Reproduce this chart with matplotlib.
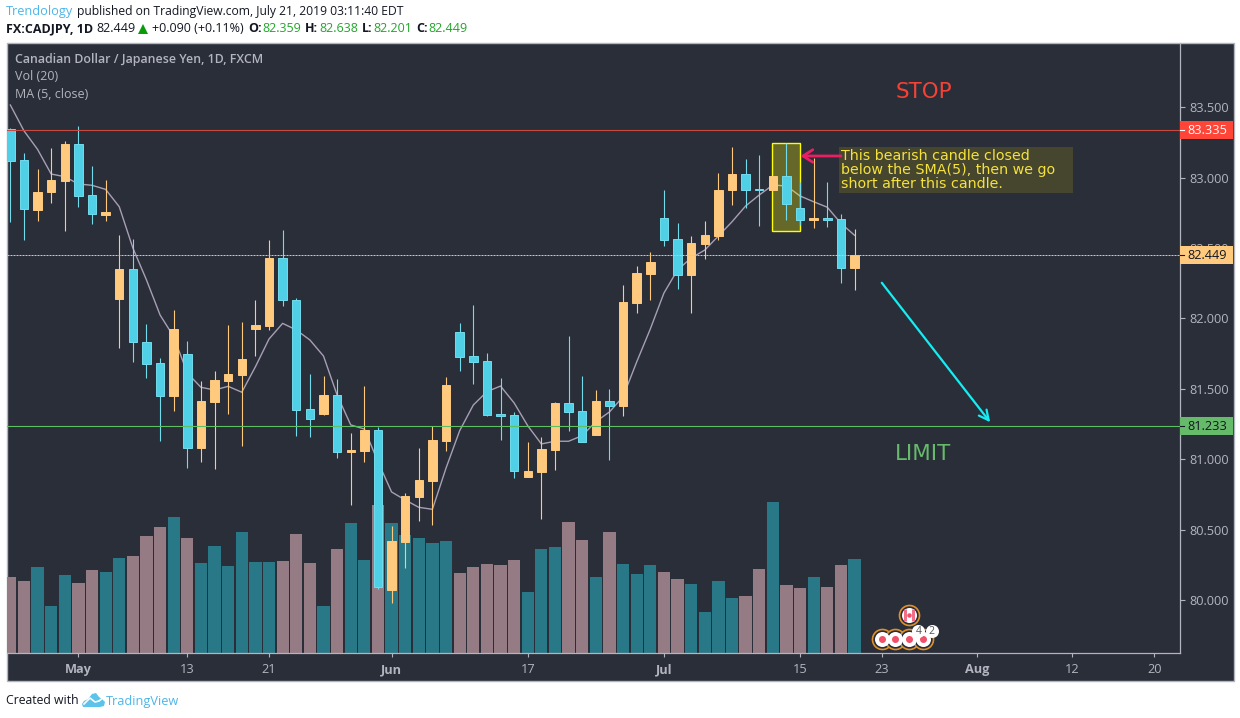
import matplotlib
matplotlib.use('Agg')
import matplotlib.pyplot as plt
from matplotlib.patches import Rectangle, Polygon

plt.rcParams['font.family'] = ['Open Sans', 'DejaVu Sans']

# one bar per trading day, Apr 24 to Jul 19 2019
opens = [83.342, 83.122, 82.771, 82.899, 82.977, 83.236, 82.874, 82.734, 82.140, 82.348,
         81.830, 81.681, 81.451, 81.745, 81.082, 81.409, 81.558, 81.598, 81.927, 81.948,
         82.427, 82.128, 81.355, 81.321, 81.454, 81.052, 81.059, 81.206, 80.072, 80.413,
         80.732, 80.846, 81.130, 81.901, 81.731, 81.696, 81.322, 81.312, 80.874, 80.910,
         81.066, 81.397, 81.341, 81.172, 81.412, 81.378, 82.111, 82.317, 82.710, 82.561,
         82.310, 82.528, 82.585, 82.911, 83.023, 82.918, 82.911, 83.009, 82.781, 82.698,
         82.713, 82.703, 82.359]
highs = [83.349, 83.172, 83.058, 83.209, 83.257, 83.365, 83.082, 82.982, 82.590, 82.561,
         81.958, 81.719, 82.060, 81.840, 81.556, 81.627, 81.953, 81.974, 82.131, 82.556,
         82.625, 82.145, 81.605, 81.591, 81.570, 81.187, 81.520, 81.231, 80.527, 80.759,
         81.080, 81.236, 81.584, 81.967, 82.095, 81.754, 81.577, 81.336, 81.123, 81.158,
         81.407, 81.875, 81.591, 81.492, 81.499, 82.237, 82.372, 82.471, 82.911, 82.677,
         82.585, 82.691, 83.032, 83.216, 83.131, 83.160, 83.011, 83.243, 82.970, 83.138,
         82.968, 82.741, 82.638]
lows = [82.686, 82.556, 82.693, 82.821, 82.622, 82.793, 82.672, 82.693, 81.792, 81.693,
        81.579, 81.132, 81.345, 80.940, 80.983, 80.933, 81.324, 81.097, 81.733, 81.918,
        82.090, 81.167, 81.160, 81.314, 81.011, 80.678, 80.983, 80.082, 79.982, 80.229,
        80.562, 80.534, 81.059, 81.627, 81.534, 81.307, 81.137, 80.867, 80.874, 80.576,
        80.924, 81.201, 81.125, 81.172, 80.995, 81.307, 82.040, 82.131, 82.516, 82.211,
        82.040, 82.424, 82.556, 82.805, 82.784, 82.656, 82.911, 82.698, 82.663, 82.642,
        82.649, 82.251, 82.201]
closes = [83.119, 82.774, 82.897, 82.982, 83.238, 82.871, 82.739, 82.755, 82.351, 81.830,
          81.678, 81.451, 81.925, 81.082, 81.414, 81.563, 81.605, 81.712, 81.953, 82.429,
          82.128, 81.353, 81.288, 81.456, 81.054, 81.066, 81.208, 80.092, 80.420, 80.740,
          80.853, 81.137, 81.527, 81.728, 81.693, 81.317, 81.307, 80.919, 80.917, 81.073,
          81.400, 81.338, 81.125, 81.414, 81.380, 82.116, 82.320, 82.400, 82.559, 82.310,
          82.533, 82.592, 82.911, 83.025, 82.913, 82.913, 83.011, 82.814, 82.700, 82.713,
          82.698, 82.360, 82.449]
ma5 = [83.515, 83.332, 83.200, 83.025, 83.006, 82.954, 82.945, 82.916, 82.793, 82.500,
       82.273, 82.024, 81.870, 81.612, 81.511, 81.492, 81.518, 81.476, 81.657, 81.854,
       81.965, 81.918, 81.847, 81.733, 81.456, 81.244, 81.215, 80.983, 80.768, 80.711,
       80.659, 80.645, 80.938, 81.203, 81.385, 81.480, 81.520, 81.400, 81.238, 81.109,
       81.128, 81.128, 81.168, 81.267, 81.336, 81.444, 81.691, 81.925, 82.180, 82.344,
       82.429, 82.485, 82.585, 82.686, 82.798, 82.876, 82.947, 82.940, 82.869, 82.828,
       82.789, 82.675, 82.590]
volumes = [76, 72, 86, 47, 78, 70, 83, 81, 95, 97, 117, 126, 136, 115, 90, 107, 87, 121, 91, 91,
           92, 119, 90, 47, 104, 130, 93, 148, 130, 118, 115, 110, 112, 80, 86, 89, 88, 93, 61, 104,
           106, 131, 113, 76, 121, 89, 79, 88, 81, 74, 69, 41, 72, 55, 57, 84, 151, 68, 65, 76,
           66, 88, 94]

x_ticks = [5, 13, 19, 28, 38, 48, 58, 64, 71, 78, 84]
x_labels = ['May', '13', '21', 'Jun', '17', 'Jul', '15', '23', 'Aug', '12', '20']
y_ticks = [80.0, 80.5, 81.0, 81.5, 82.0, 82.5, 83.0, 83.5]

stop_price = 83.335
last_price = 82.449
limit_price = 81.233

BG = '#2a2e39'
AXIS = '#b2b5be'
UP = '#ffca7d'
DOWN = '#4fd0e6'
DOWN_EDGE = '#72dcec'
VOL_UP = '#297887'
VOL_DOWN = '#957c84'
BLUE = '#4db5e8'
W, H = 1240, 718


def fx(x):
    return x / W


def fy(y):
    return 1 - y / H


def fig_text(x, y, s, color='#131722', size=8.75, weight='normal', **kw):
    fig.text(fx(x), fy(y), s, color=color, fontsize=size, fontweight=weight, va='center', **kw)


fig = plt.figure(figsize=(W / 100, H / 100), dpi=100, facecolor='white')

# dark panel with the axis strips
fig.patches.append(Rectangle((fx(6.5), fy(681)), fx(1227.5), 638 / H, transform=fig.transFigure,
                             facecolor=BG, edgecolor=AXIS, linewidth=1, zorder=0))

pos = [fx(6.5), fy(653), fx(1173.5), 610 / H]
xlim = (-0.28, 85.9)
ylim = (79.625, 83.955)

vol_ax = fig.add_axes(pos, zorder=1)
vol_ax.axis('off')
vol_ax.set_xlim(xlim)
vol_ax.set_ylim(0, 610)

ax = fig.add_axes(pos, zorder=2)
ax.patch.set_visible(False)
ax.set_xlim(xlim)
ax.set_ylim(ylim)

xs = list(range(len(closes)))
is_up = [c >= o for o, c in zip(opens, closes)]

vol_ax.bar(xs, volumes, width=0.9, color=[VOL_UP if u else VOL_DOWN for u in is_up], linewidth=0)

# moving average sits under the candles
ax.plot(xs, ma5, color='#a79fb5', linewidth=1.0, zorder=2)

ax.vlines(xs, lows, highs, colors=[UP if u else DOWN_EDGE for u in is_up], linewidth=0.8, zorder=3)
ax.bar(xs, [abs(c - o) for o, c in zip(opens, closes)], bottom=[min(o, c) for o, c in zip(opens, closes)],
       width=0.62, color=[UP if u else DOWN for u in is_up],
       edgecolor=[UP if u else DOWN_EDGE for u in is_up], linewidth=0.7, zorder=4)

# price lines
ax.axhline(stop_price, color='#c8493f', linewidth=0.8, zorder=5)
ax.axhline(limit_price, color='#5fbf63', linewidth=0.8, zorder=5)
ax.axhline(last_price, color='#ffc263', linewidth=0.72, linestyle=(0, (2, 1)), zorder=5)

# axes dressing
for name in ['top', 'left']:
    ax.spines[name].set_visible(False)
for name in ['right', 'bottom']:
    ax.spines[name].set_color(AXIS)
    ax.spines[name].set_linewidth(0.9)
ax.yaxis.tick_right()
ax.set_yticks(y_ticks)
ax.set_yticklabels(['%.3f' % v for v in y_ticks])
ax.set_xticks(x_ticks)
ax.set_xticklabels(x_labels)
ax.tick_params(axis='y', colors=AXIS, length=3.5, width=0.8, pad=3.5, labelsize=9.2)
ax.tick_params(axis='x', colors=AXIS, length=3, width=0.8, pad=4.5, labelsize=9.2)
for lab in ax.get_xticklabels():
    if lab.get_text() in ('May', 'Jun', 'Jul', 'Aug'):
        lab.set_fontweight('bold')

# coloured last-value tags over the price scale
trans = ax.get_yaxis_transform()
tag_w = 53 / 1173.5
for price, face, txt, tick in [(stop_price, '#ff4438', 'white', 'white'),
                               (last_price, UP, '#131722', '#131722'),
                               (limit_price, '#66bb6a', '#131722', '#131722')]:
    ax.add_patch(Rectangle((1.0, price - 9 / 140.9), tag_w, 18 / 140.9, transform=trans, facecolor=face,
                           edgecolor='none', clip_on=False, zorder=6))
    ax.plot([1.0, 1.0 + 4 / 1173.5], [price, price], color=tick, linewidth=0.8, transform=trans,
            clip_on=False, zorder=7)
    ax.text(1.0 + 7.5 / 1173.5, price, '%.3f' % price, color=txt, fontsize=9.2, va='center', transform=trans,
            clip_on=False, zorder=7)

# drawings from the author: the highlight stays behind the candles
ax.add_patch(Rectangle((55.97, 82.618), 2.01, 83.243 - 82.618, facecolor=(1, 1, 0, 0.28),
                       edgecolor='#ffff00', linewidth=1.0, zorder=2.5))
ax.add_patch(Rectangle((60.85, 82.892), 17.18, 0.322, facecolor='#46462f', edgecolor='none', zorder=8))
ax.text(61.0, 83.053, 'This bearish candle closed\nbelow the SMA(5), then we go\nshort after this candle.',
        family='DejaVu Sans', color='#f5e23c', fontsize=10.3, linespacing=1.0, va='center', zorder=9)
ax.annotate('', xy=(58.03, 83.153), xytext=(61.0, 83.153), zorder=9,
            arrowprops=dict(arrowstyle='->,head_length=0.7,head_width=0.45', color='#e91e63', lw=2.0,
                            shrinkA=0, shrinkB=0))
ax.annotate('', xy=(71.96, 81.263), xytext=(64.0, 82.253), zorder=9,
            arrowprops=dict(arrowstyle='->,head_length=0.7,head_width=0.35', color='#14eef2', lw=1.6,
                            shrinkA=0, shrinkB=0))
ax.text(64.98, 83.608, 'STOP', family='DejaVu Sans', color='#f44336', fontsize=15.4, va='center', zorder=9)
ax.text(64.98, 81.04, 'LIMIT', family='DejaVu Sans', color='#66bb6a', fontsize=15.4, va='center', zorder=9)

# economic event bubbles
event_x = [64, 65, 66, 67]
event_y = [79.727, 79.727, 79.727, 79.727]
ax.scatter(event_x, event_y, s=(20 * 0.72) ** 2, facecolor=BG, edgecolor='#e0902a', linewidth=1.2, zorder=8)
ax.scatter(event_x, event_y, s=(15 * 0.72) ** 2, color='white', linewidth=0, zorder=9)
ax.scatter(event_x, event_y, s=(7 * 0.72) ** 2, color='#f0506a', linewidth=0, zorder=10)
ax.scatter([66], [79.897], s=(20 * 0.72) ** 2, facecolor=BG, edgecolor='#e0902a', linewidth=1.2, zorder=8)
ax.scatter([66], [79.897], s=(15 * 0.72) ** 2, color='white', linewidth=0, zorder=9)
ax.plot([65.68, 66.32], [79.897, 79.897], linestyle='none', marker='|', markersize=8, markeredgewidth=2.2,
        color='#f0708a', zorder=10)
ax.scatter([66], [79.897], s=(4.5 * 0.72) ** 2, color='#f0506a', linewidth=0, zorder=10)
for bx, num in [(66.68, '4'), (67.66, '2')]:
    ax.scatter([bx], [79.778], s=(13 * 0.72) ** 2, color='white', linewidth=0, zorder=11)
    ax.text(bx, 79.778, num, color='#555555', fontsize=7.5, ha='center', va='center', zorder=12)

# legend block
fig_text(15, 60, 'Canadian Dollar / Japanese Yen, 1D, FXCM', color=AXIS, size=8.9, weight='semibold')
fig_text(15, 77, 'Vol (20)', color=AXIS, size=9.0)
fig_text(15, 94, 'MA (5, close)', color=AXIS, size=9.0)

# header
fig_text(6, 12, 'Trendology', color=BLUE, size=9.2)
fig_text(77, 12, 'published on TradingView.com, July 21, 2019 03:11:40 EDT')
fig_text(6, 29, 'FX:CADJPY, 1D', size=9.0, weight='bold')
fig_text(96, 29, '82.449', size=9.0)
fig.patches.append(Polygon([(fx(138), fy(34)), (fx(148), fy(34)), (fx(143), fy(24))], transform=fig.transFigure,
                           facecolor='#0a9a0a', edgecolor='none'))
fig_text(152, 29, '+0.090 (+0.11%)', size=9.0)
GREEN = '#22a52a'
for lx, label, vx, val in [(248, 'O:', 262, '82.359'), (305, 'H:', 319, '82.638'),
                           (362, 'L:', 373, '82.201'), (416, 'C:', 428, '82.449')]:
    fig_text(lx, 29, label, size=9.0, weight='bold')
    fig_text(vx, 29, val, color=GREEN, size=9.0)

# footer with the cloud mark
fig_text(6, 701, 'Created with', size=8.8)
cloud = [(82, 704), (84, 701), (88, 699), (92, 694), (96, 693), (99, 697), (102, 699), (105, 702), (104, 706),
         (100, 707), (86, 707), (83, 707)]
fig.patches.append(Polygon([(fx(a), fy(b)) for a, b in cloud], transform=fig.transFigure, facecolor='#5cc3ea',
                           edgecolor='none'))
fig.add_artist(plt.Line2D([fx(84), fx(90), fx(95), fx(99), fx(104)], [fy(704), fy(698), fy(702), fy(701), fy(697)],
                          color='white', linewidth=1.2, transform=fig.transFigure))
fig_text(106, 701, 'TradingView', color=BLUE, size=9.2)

fig.savefig('out.png', dpi=100, facecolor='white')
